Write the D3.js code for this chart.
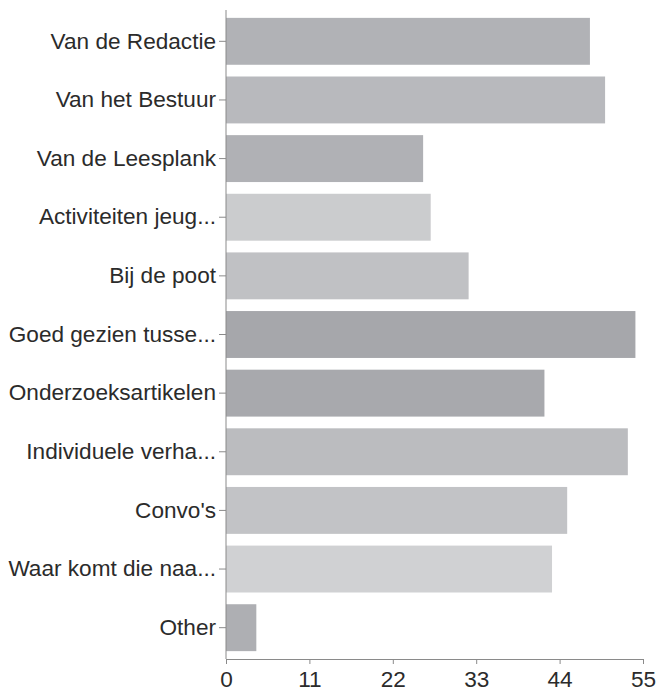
<!DOCTYPE html>
<html lang="nl">
<head>
<meta charset="UTF-8">
<title>Rubrieken</title>
<script src="https://d3js.org/d3.v7.min.js"></script>
<style>
  body { margin: 0; background: #fff; }
  svg { display: block; }
  text { font-family: "Liberation Sans", Arial, Helvetica, sans-serif; }
</style>
</head>
<body>
<div id="chart"></div>
<script>
// data
const categories = ["Van de Redactie", "Van het Bestuur", "Van de Leesplank", "Activiteiten jeug...",
  "Bij de poot", "Goed gezien tusse...", "Onderzoeksartikelen", "Individuele verha...",
  "Convo's", "Waar komt die naa...", "Other"];
const counts = [48, 50, 26, 27, 32, 54, 42, 53, 45, 43, 4];
const barColors = ["#b1b2b6", "#b8b9bd", "#b0b1b5", "#cbccce", "#c0c1c4", "#a6a7ab",
  "#a8a9ad", "#bbbcbf", "#c2c3c6", "#d0d1d3", "#aeafb3"];
const xTicks = [0, 11, 22, 33, 44, 55];

const width = 658, height = 691;
const plotLeft = 226, plotRight = 643, plotTop = 12, plotBottom = 659;

const svg = d3.select("#chart").append("svg")
  .attr("width", width)
  .attr("height", height);

const x = d3.scaleLinear().domain([0, 55]).range([plotLeft, plotRight]);
const y = d3.scaleBand().domain(categories).range([plotTop, plotBottom - 2])
  .paddingInner(0.2).paddingOuter(0.1);

// bars
svg.selectAll("rect.bar")
  .data(categories)
  .enter()
  .append("rect")
  .attr("class", "bar")
  .attr("x", x(0))
  .attr("y", d => y(d))
  .attr("width", (d, i) => x(counts[i]) - x(0))
  .attr("height", y.bandwidth())
  .attr("fill", (d, i) => barColors[i]);

// y axis
const yAxis = svg.append("g")
  .attr("transform", `translate(${plotLeft},0)`)
  .call(d3.axisLeft(y).tickSize(7).tickPadding(3).tickSizeOuter(0));
yAxis.select(".domain").remove();
yAxis.selectAll(".tick line").attr("stroke", "#8a8a8a");
yAxis.selectAll(".tick text")
  .attr("fill", "#2b2b2b")
  .style("font-size", "22.6px");
svg.append("line")
  .attr("x1", plotLeft).attr("x2", plotLeft)
  .attr("y1", plotTop - 2).attr("y2", plotBottom)
  .attr("stroke", "#8a8a8a");

// x axis
const xAxis = svg.append("g")
  .attr("transform", `translate(0,${plotBottom})`)
  .call(d3.axisBottom(x).tickValues(xTicks).tickSize(5).tickPadding(7).tickSizeOuter(5));
xAxis.select(".domain").attr("stroke", "#8a8a8a");
xAxis.selectAll(".tick line").attr("stroke", "#8a8a8a");
xAxis.selectAll(".tick text")
  .attr("fill", "#2b2b2b")
  .style("font-size", "22.6px");
</script>
</body>
</html>
